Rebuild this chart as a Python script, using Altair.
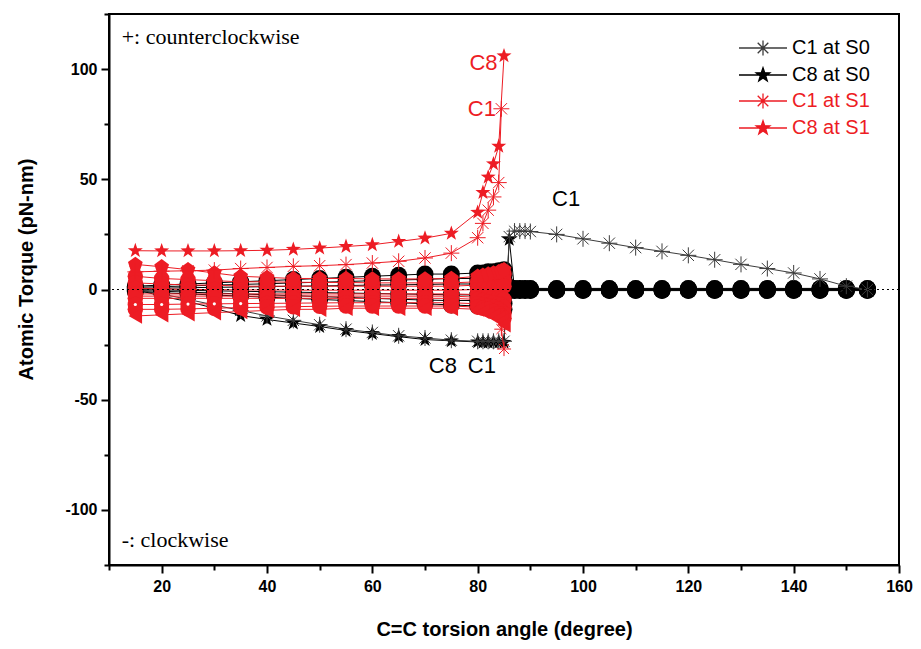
import math
import altair as alt
import pandas as pd

RED = "#ed1c24"
BLACK = "#000000"
GREY = "#3c3c3c"

# ---------------- data ----------------
XS_S0 = [15, 20, 25, 30, 35, 40, 45, 50, 55, 60, 65, 70, 75, 80, 81, 82, 83, 84, 85,
         86, 87, 88, 89, 90, 95, 100, 105, 110, 115, 120, 125, 130, 135, 140, 145, 150, 154]
XS_S1 = [15, 20, 25, 30, 35, 40, 45, 50, 55, 60, 65, 70, 75, 80, 81, 82, 83, 84, 84.5, 85]

C1_S0 = [0, -2, -4.5, -7, -9.5, -12, -14, -16, -18, -19.5, -21, -22, -23,
         -23.5, -23.5, -23.5, -23.5, -23.5, -23.5,
         24, 26.5, 26.5, 26.5, 26.3, 25, 23, 21, 19, 17.3, 15.5, 13.5, 11.4, 9.5, 7.5, 4.8, 1.5, 0]
C8_S0 = [0, -3, -5.5, -8.5, -11.8, -13.6, -15.2, -16.8, -18.6, -20, -21.4, -22.7, -23.3,
         -23.8, -24, -24, -24, -24, -24,
         22.7, 0, 0, 0, 0, 0, 0, 0, 0, 0, 0, 0, 0, 0, 0, 0, 0, 0]
C1_S1 = [8, 8.3, 8.5, 8.8, 9.5, 10, 10.5, 10.8, 11.3, 12, 12.8, 14.3, 16.5,
         23.5, 30, 36, 42, 48.5, 82, None]
C8_S1 = [17.6, 17.5, 17.5, 17.5, 17.6, 17.8, 18.2, 18.8, 19.5, 20.3, 21.8, 23.3, 25.5,
         35, 44, 51, 57, 65, None, 106]

# other atoms at S0 (black)
S0_A = [1.5, 2, 2.5, 3, 3.5, 4, 4.5, 5, 5.5, 6, 6.5, 7, 7, 7.5, 7.5, 8, 8, 8.5, 9,
        1, 0.5, 0.5, 0.5, 0.5, 0.5, 0.5, 0.5, 0.5, 0.5, 0.5, 0.5, 0.5, 0.5, 0.5, 0.5, 0.5, 0.5]
S0_B = [1, 1.3, 1.6, 2, 2.3, 2.6, 3, 3.3, 3.6, 4, 4.3, 4.6, 5, 5, 5, 5.5, 5.5, 6, 6.5,
        0, 0, 0, 0, 0, 0, 0, 0, 0, 0, 0, 0, 0, 0, 0, 0, 0, 0]
S0_C = [0.5, 0.6, 0.8, 1, 1.1, 1.3, 1.5, 1.6, 1.8, 2, 2.1, 2.3, 2.5, 2.5, 2.5, 3, 3, 3.5, 4,
        -0.5, -0.5, -0.5, -0.5, -0.5, -0.5, -0.5, -0.5, -0.5, -0.5, -0.5, -0.5, -0.5, -0.5, -0.5, -0.5, -0.5, -0.5]
S0_D = [0, -0.2, -0.4, -0.6, -0.8, -1, -1.2, -1.4, -1.6, -1.8, -2, -2.2, -2.4, -2.5, -2.5, -2.5, -2.5, -3, -3,
        0.3, 0.3, 0.3, 0.3, 0.3, 0.3, 0.3, 0.3, 0.3, 0.3, 0.3, 0.3, 0.3, 0.3, 0.3, 0.3, 0.3, 0.3]
S0_E = [-0.5, -0.8, -1.2, -1.6, -2, -2.4, -2.8, -3.2, -3.6, -4, -4.4, -4.8, -5, -5, -5, -5.5, -5.5, -6, -6.5,
        0, 0, 0, 0, 0, 0, 0, 0, 0, 0, 0, 0, 0, 0, 0, 0, 0, 0]
S0_F = [-1, -1.5, -2, -2.5, -3, -3.5, -4, -4.5, -5, -5.5, -6, -6.5, -7, -7.5, -7.5, -8, -8, -8.5, -9,
        -0.3, -0.3, -0.3, -0.3, -0.3, -0.3, -0.3, -0.3, -0.3, -0.3, -0.3, -0.3, -0.3, -0.3, -0.3, -0.3, -0.3, -0.3]

# other atoms at S1 (red)
S1_A = [11.4, 10.3, 9, 7.5, 6, 5.5, 5, 5, 5, 4.8, 4.8, 4.8, 5, 6, 6.5, 7, 7.5, 8, 8.5, 9]
S1_B = [6, 5, 4.5, 4, 3.5, 3.5, 3.3, 3.2, 3.2, 3, 3, 3, 3, 3.5, 4, 4.5, 5, 5.5, 6, 7]
S1_C = [3, 2.5, 2, 2, 1.5, 1.5, 1.5, 1.5, 1.5, 1.5, 1.5, 1.5, 1.5, 2, 2, 2.5, 3, 3, 3.5, 4]
S1_D = [0.5, 0.3, 0, 0, -0.2, -0.2, -0.3, -0.3, -0.3, -0.3, -0.3, -0.3, -0.3, 0, 0.3, 0.5, 0.8, 1, 1.2, 1.5]
S1_E = [-2, -2, -2, -2, -2, -2, -2, -2, -2, -2, -2, -2, -2, -2.3, -2.5, -2.8, -3, -3.5, -4, -4.5]
S1_F = [-4, -4, -4, -4, -4, -4, -4, -4, -4, -4, -4, -4, -4, -4.5, -5, -5.5, -6, -6.5, -7, -8]
S1_G = [-6.8, -6.8, -6.6, -6.5, -6.4, -6.3, -6.2, -6.1, -6, -6, -6, -6, -6, -6.5, -7, -7.5, -8, -9, -10, -11]
S1_H = [-9, -9, -8.8, -8.5, -8.2, -8, -7.8, -7.6, -7.5, -7.5, -7.5, -7.5, -7.5, -8, -8.5, -9, -10, -11, -12, -13]
S1_I = [-12, -11.5, -11, -10.5, -10, -9.5, -9, -9, -8.5, -8.5, -8.5, -8.5, -8.5, -9, -10, -11, -12, -13, -14.5, -16]
S1_J = [-3, -3, -3, -3, -3, -3, -3, -3, -3, -3, -3, -3, -3, -3.5, -4, -5, -7, -11, -18, -27]
WHITE_DOT_X = [15, 20, 25, 30, 35]

LEGEND_NAMES = ["C1 at S0", "C8 at S0", "C1 at S1", "C8 at S1"]
LEGEND_COLORS = [GREY, BLACK, RED, RED]

# ---------------- marker paths ----------------
def star_path(r, line=None):
    pts = []
    for k in range(10):
        ang = math.radians(-90 + 36 * k)
        rr = r if k % 2 == 0 else r * 0.4
        pts.append(f"{rr * math.cos(ang):.3f},{rr * math.sin(ang):.3f}")
    p = "M" + "L".join(pts) + "Z"
    if line:
        p = f"M{-line},0L{line},0" + p
    return p


def asterisk_path(r, line=None):
    d = r * 0.707
    p = (f"M0,{-r}L0,{r}M{-d:.3f},{-d:.3f}L{d:.3f},{d:.3f}"
         f"M{-d:.3f},{d:.3f}L{d:.3f},{-d:.3f}")
    if line:
        p = f"M{-line},0L{line},0" + p
    else:
        p = f"M{-r},0L{r},0" + p
    return p


PENTAGON = "M0,-1L0.951,-0.309L0.588,0.809L-0.588,0.809L-0.951,-0.309Z"
STAR = star_path(1)
ASTER = asterisk_path(1)
LEGEND_PATHS = [asterisk_path(0.75, 2.4), star_path(0.72, 2.4),
                asterisk_path(0.75, 2.4), star_path(0.72, 2.4)]


def rows(xs, ys, name, color, size, group):
    out = []
    for x, y in zip(xs, ys):
        if y is None:
            continue
        out.append(dict(x=x, y=y, series=name, color=color, size=size, group=group))
    return out


recs = []
for nm, ys in [("S0_A", S0_A), ("S0_B", S0_B), ("S0_C", S0_C),
               ("S0_D", S0_D), ("S0_E", S0_E), ("S0_F", S0_F)]:
    recs += rows(XS_S0, ys, nm, BLACK, 290, "blackcircle")
recs += rows(XS_S0, C8_S0, "C8 at S0", BLACK, 250, "blackstar")
recs += rows(XS_S0, C1_S0, "C1 at S0", GREY, 256, "blackaster")
red_sets = [("S1_A", S1_A, "pent"), ("S1_B", S1_B, "circle"), ("S1_C", S1_C, "circle"),
            ("S1_D", S1_D, "circle"), ("S1_E", S1_E, "circle"), ("S1_F", S1_F, "circle"),
            ("S1_G", S1_G, "circle"), ("S1_H", S1_H, "circle"), ("S1_I", S1_I, "tri"),
            ("S1_J", S1_J, "cross")]
for nm, ys, g in red_sets:
    recs += rows(XS_S1, ys, nm, RED, 240 if g != "cross" else 200, "red" + g)
recs += rows(XS_S1, C1_S1, "C1 at S1", RED, 256, "redaster")
recs += rows(XS_S1, C8_S1, "C8 at S1", RED, 250, "redstar")
df = pd.DataFrame(recs)

white = pd.DataFrame([dict(x=x, y=y) for x, y in zip(XS_S1, S1_G) if x in WHITE_DOT_X])

xsc = alt.Scale(domain=[10, 160], nice=False, zero=False)
ysc = alt.Scale(domain=[-125, 125], nice=False, zero=False)

AX_FONT = "Liberation Sans"
x_axis = alt.Axis(
    values=list(range(10, 161, 10)),
    labelExpr="datum.value % 20 == 0 ? '' + datum.value : ''",
    tickSize={"condition": {"test": "datum.value % 20 == 0", "value": 8}, "value": 5},
    tickWidth=2, tickColor="black", domainColor="black", domainWidth=2,
    labelFont=AX_FONT, labelFontWeight="bold", labelFontSize=16, labelColor="black",
    labelPadding=5, labelOverlap=False, labelFlush=False, grid=False,
    title="C=C torsion angle (degree)", titleFont=AX_FONT, titleFontSize=20,
    titleFontWeight="bold", titleColor="black", titleY=70, titleBaseline="alphabetic",
)
y_axis = alt.Axis(
    values=list(range(-125, 126, 25)),
    labelExpr="datum.value % 50 == 0 ? '' + datum.value : ''",
    tickSize={"condition": {"test": "datum.value % 50 == 0", "value": 8}, "value": 5},
    tickWidth=2, tickColor="black", domainColor="black", domainWidth=2,
    labelFont=AX_FONT, labelFontWeight="bold", labelFontSize=16, labelColor="black",
    labelPadding=4, labelOverlap=False, labelFlush=False, grid=False,
    title="Atomic Torque (pN-nm)", titleFont=AX_FONT, titleFontSize=20,
    titleFontWeight="bold", titleColor="black", titleX=-83, titleY=255,
    titleBaseline="middle", titleAngle=270,
)

X = alt.X("x:Q", scale=xsc, axis=x_axis)
Y = alt.Y("y:Q", scale=ysc, axis=y_axis)
COL = alt.Color("color:N", scale=None)
SIZE = alt.Size("size:Q", scale=None)

base = alt.Chart(df)


def lines(groups):
    return base.transform_filter(
        alt.FieldOneOfPredicate(field="group", oneOf=groups)
    ).mark_line(strokeWidth=1).encode(x=X, y=Y, detail="series:N", color=COL)


def points(groups, shape, filled, sw=1):
    return base.transform_filter(
        alt.FieldOneOfPredicate(field="group", oneOf=groups)
    ).mark_point(shape=shape, filled=filled, opacity=1, strokeWidth=sw).encode(
        x=X, y=Y, color=COL, size=SIZE)


layers = [
    lines(["blackcircle"]),
    points(["blackcircle"], "circle", True),
    lines(["blackstar", "blackaster"]),
    points(["blackstar"], STAR, True),
    points(["blackaster"], ASTER, False, 1),
    lines(["redpent", "redcircle", "redtri", "redcross"]),
    points(["redcross"], ASTER, False, 1),
    points(["redcircle"], "circle", True),
    points(["redpent"], PENTAGON, True),
    points(["redtri"], "triangle-left", True),
    alt.Chart(white).mark_point(shape="circle", filled=True, color="white",
                                opacity=1, size=10).encode(x=X, y=Y),
    lines(["redaster", "redstar"]),
    points(["redaster"], ASTER, False, 1),
    points(["redstar"], STAR, True),
]

zero_rule = alt.Chart(pd.DataFrame({"y": [0]})).mark_rule(
    color="black", strokeDash=[2, 3], strokeWidth=1).encode(y=alt.Y("y:Q", scale=ysc, axis=y_axis))
layers.append(zero_rule)

# annotations
ANN_SERIF_TEXT = ["+: counterclockwise", "-: clockwise"]
ANN_SERIF_X = [12.4, 12.4]
ANN_SERIF_Y = [114.5, -113.5]
serif = alt.Chart(pd.DataFrame({"x": ANN_SERIF_X, "y": ANN_SERIF_Y, "t": ANN_SERIF_TEXT})).mark_text(
    font="Liberation Serif", fontSize=22, align="left", baseline="middle", color="black"
).encode(x=X, y=Y, text="t:N")

ANN_TEXT = ["C8", "C1", "C1", "C8", "C1"]
ANN_X = [81.1, 80.8, 96.8, 73.4, 80.8]
ANN_Y = [102.7, 81.8, 40.9, -34.5, -34.5]
ANN_COL = [RED, RED, BLACK, BLACK, BLACK]
sans = alt.Chart(pd.DataFrame({"x": ANN_X, "y": ANN_Y, "t": ANN_TEXT, "color": ANN_COL})).mark_text(
    font="Liberation Sans", fontSize=22, align="center", baseline="middle"
).encode(x=X, y=Y, text="t:N", color=COL)
layers += [serif, sans]

# legend
leg = alt.Legend(
    orient="none", legendX=643, legendY=23, title=None, padding=0,
    labelFont="Liberation Sans", labelFontSize=20, labelOffset=18,
    labelColor={"expr": "indexof(datum.label, 'S1') >= 0 ? '" + RED + "' : 'black'"},
    symbolSize=400, symbolStrokeWidth=1.3, symbolOpacity=1, rowPadding=5,
)
ldf = pd.DataFrame({"name": LEGEND_NAMES})
legend_layer = alt.Chart(ldf).mark_point(filled=True, opacity=0).encode(
    x=alt.value(0), y=alt.value(0),
    shape=alt.Shape("name:N", scale=alt.Scale(domain=LEGEND_NAMES, range=LEGEND_PATHS), legend=leg),
    fill=alt.Fill("name:N", scale=alt.Scale(domain=LEGEND_NAMES, range=LEGEND_COLORS), legend=leg),
    stroke=alt.Stroke("name:N", scale=alt.Scale(domain=LEGEND_NAMES, range=LEGEND_COLORS), legend=leg),
)
layers.append(legend_layer)

chart = alt.layer(*layers).properties(
    width=790, height=551,
    padding={"left": 101, "top": 6, "right": 14, "bottom": 76},
    autosize=alt.AutoSizeParams(type="none"),
    background="white",
).configure_view(stroke="black", strokeWidth=2)

chart.save("out.html", embed_options={"renderer": "svg", "actions": False})
